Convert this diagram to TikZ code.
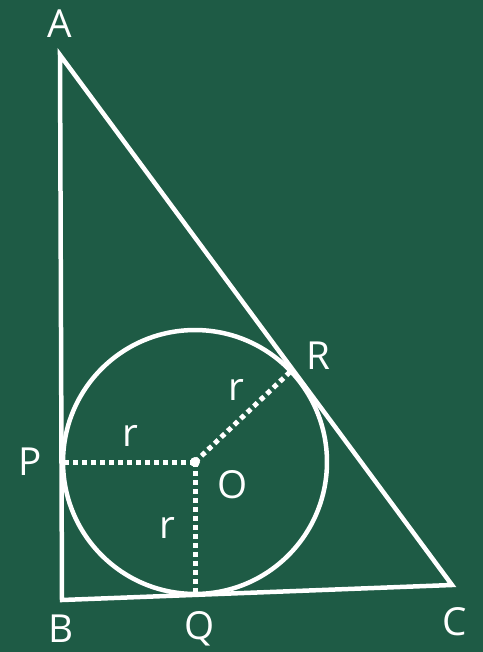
\documentclass[tikz,border=0pt]{standalone}
\usepackage{fontspec}
\setmainfont{Open Sans}
\usetikzlibrary{calc}
\definecolor{board}{RGB}{30,91,69}
\tikzset{
  edge/.style={draw=white,line width=0.09cm},
  radius line/.style={draw=white,line width=0.1cm,dash pattern=on 0.1cm off 0.08cm},
  lbl/.style={text=white,font=\fontsize{22}{24}\selectfont,inner sep=0pt}
}
\begin{document}
\begin{tikzpicture}[x=0.02cm,y=-0.02cm]
\fill[board] (0,0) rectangle (483,652);
\useasboundingbox (0,0) rectangle (483,652);
\coordinate (A) at (60,55);
\coordinate (B) at (62,600);
\coordinate (C) at (452,585);
\coordinate (O) at (195,462);
\coordinate (P) at (64,462);
\coordinate (Q) at (195,593);
\coordinate (R) at (291,371);
\draw[edge] (A)--(B)--(C)--cycle;
\draw[edge] (O) circle[radius=2.64cm];
\draw[radius line] (O)--(P);
\draw[radius line] (O)--(Q);
\draw[radius line] (O)--(R);
\fill[white] (O) circle[radius=0.1cm];
\node[lbl] (lA) at (60,24) {A};
\node[lbl] (lB) at (61,629) {B};
\node[lbl] (lC) at (455,622) {C};
\node[lbl] (lP) at (30,462) {P};
\node[lbl] (lQ) at (200,629) {Q};
\node[lbl] (lR) at (318,356) {R};
\node[lbl] (lO) at (233,485) {O};
\node[lbl] (r1) at (130,436) {r};
\node[lbl] (r2) at (167,528) {r};
\node[lbl] (r3) at (236,390) {r};
\end{tikzpicture}
\end{document}
